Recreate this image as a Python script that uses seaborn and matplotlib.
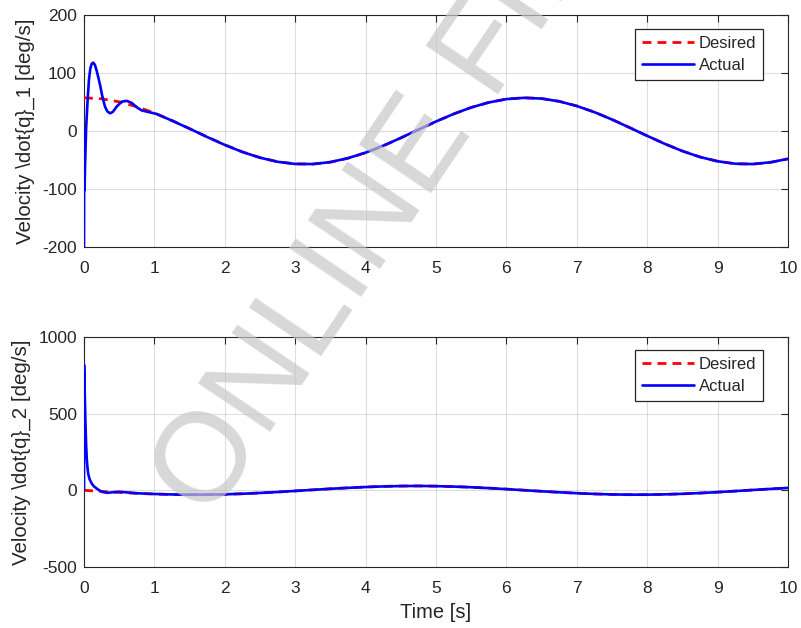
import matplotlib
matplotlib.use("Agg")
import matplotlib.pyplot as plt
import seaborn as sns
import pandas as pd

# ---------------- data ----------------
t_des = [0, 0.25, 0.5, 0.75, 1.0, 1.25, 1.5, 1.75, 2.0, 2.25, 2.5, 2.75, 3.0, 3.25,
         3.5, 3.75, 4.0, 4.25, 4.5, 4.75, 5.0, 5.25, 5.5, 5.75, 6.0, 6.25, 6.5,
         6.75, 7.0, 7.25, 7.5, 7.75, 8.0, 8.25, 8.5, 8.75, 9.0, 9.25, 9.5, 9.75, 10.0]

q1_des = [57.3, 55.5, 50.3, 41.9, 31.0, 18.1, 4.1, -10.2, -23.8, -36.0, -45.9, -53.0,
          -56.7, -57.0, -53.7, -47.0, -37.5, -25.6, -12.1, 2.2, 16.3, 29.3, 40.6, 49.3,
          55.0, 57.3, 56.0, 51.2, 43.2, 32.6, 19.9, 5.9, -8.3, -22.1, -34.5, -44.8,
          -52.2, -56.5, -57.1, -54.1, -48.1]

q2_des = [0.0, -7.1, -13.7, -19.5, -24.1, -27.1, -28.5, -28.1, -26.0, -22.3, -17.1,
          -10.9, -4.0, 3.1, 10.0, 16.3, 21.6, 25.6, 28.0, 28.6, 27.4, 24.6, 20.2, 14.5,
          8.0, 0.9, -6.2, -12.9, -18.8, -23.5, -26.8, -28.4, -28.3, -26.4, -22.8, -17.9,
          -11.8, -5.0, 2.2, 9.1, 15.6]

# actual joint 1 velocity: transient, then tracking
t_act1 = [0, 0.003, 0.008, 0.015, 0.03, 0.05, 0.07, 0.09, 0.11, 0.132, 0.155, 0.18,
          0.2, 0.227, 0.26, 0.298, 0.33, 0.37, 0.41, 0.464, 0.535, 0.606, 0.677, 0.748,
          0.82, 0.94, 1.03, 1.25, 1.5, 1.75, 2.0, 2.25, 2.5, 2.75, 3.0, 3.25,
          3.5, 3.75, 4.0, 4.25, 4.5, 4.75, 5.0, 5.25, 5.5, 5.75, 6.0, 6.25, 6.5,
          6.75, 7.0, 7.25, 7.5, 7.75, 8.0, 8.25, 8.5, 8.75, 9.0, 9.25, 9.5, 9.75, 10.0]
q1_act = [-200, 0, -102, -60, 5, 50, 88, 108, 116, 117.8, 114, 104,
          94, 80, 60, 42, 34, 30.5, 33, 42, 50.5, 52, 48.5, 41,
          35.5, 32, 29.5, 17.8, 4.0, -10.4, -24.0, -36.2, -46.0, -53.1, -56.8, -57.0,
          -53.6, -46.8, -37.3, -25.4, -11.9, 2.4, 16.4, 29.4, 40.6, 49.2,
          55.0, 57.2, 55.9, 51.1, 43.1, 32.5, 19.8, 5.8, -8.4, -22.2, -34.6, -44.9,
          -52.2, -56.4, -57.0, -54.0, -48.0]

# actual joint 2 velocity
t_act2 = [0, 0.001, 0.006, 0.012, 0.02, 0.03, 0.04, 0.05, 0.061, 0.08, 0.109, 0.14,
          0.18, 0.23, 0.275, 0.33, 0.4, 0.5, 0.6, 0.75, 1.0, 1.25, 1.5, 1.75, 2.0,
          2.25, 2.5, 2.75, 3.0, 3.25, 3.5, 3.75, 4.0, 4.25, 4.5, 4.75, 5.0, 5.25,
          5.5, 5.75, 6.0, 6.25, 6.5, 6.75, 7.0, 7.25, 7.5, 7.75, 8.0, 8.25, 8.5,
          8.75, 9.0, 9.25, 9.5, 9.75, 10.0]
q2_act = [0, 818, 720, 600, 450, 300, 200, 145, 105, 72, 45, 26,
          12, -4, -12, -16, -13, -9, -13, -19, -23.8, -26.9, -28.3, -28.0, -25.9,
          -22.2, -17.0, -10.8, -3.9, 3.2, 10.0, 16.3, 21.5, 25.5, 27.9, 28.5, 27.3,
          24.5, 20.1, 14.4, 7.9, 0.8, -6.2, -12.8, -18.7, -23.4, -26.7, -28.3, -28.2,
          -26.3, -22.7, -17.8, -11.7, -4.9, 2.3, 9.2, 15.7]

x_ticks = list(range(0, 11))
y1_ticks = [-200, -100, 0, 100, 200]
y2_ticks = [-500, 0, 500, 1000]

ylabel1 = "Velocity \\dot{q}_1 [deg/s]"
ylabel2 = "Velocity \\dot{q}_2 [deg/s]"
xlabel = "Time [s]"
watermark = "ONLINE FIRST"

# ---------------- style ----------------
sns.set_style("white")
plt.rcParams["font.family"] = ["Liberation Sans", "DejaVu Sans"]
plt.rcParams["axes.unicode_minus"] = False
dark = (0.15, 0.15, 0.15)
plt.rcParams["text.color"] = dark
plt.rcParams["axes.labelcolor"] = dark

fig = plt.figure(figsize=(8.01, 6.28), dpi=100)
ax1 = fig.add_axes([84 / 801, 1 - 247 / 628, 704 / 801, 232 / 628])
ax2 = fig.add_axes([84 / 801, 1 - 567 / 628, 704 / 801, 230 / 628])

panels = [
    (ax1, q1_des, t_act1, q1_act, (-200, 200), y1_ticks, ylabel1, 0.94),
    (ax2, q2_des, t_act2, q2_act, (-500, 1000), y2_ticks, ylabel2, 0.943),
]

for ax, des, ta, act, ylim, yt, ylab, legy in panels:
    df_d = pd.DataFrame({"t": t_des, "v": des})
    df_a = pd.DataFrame({"t": ta, "v": act})
    sns.lineplot(data=df_d, x="t", y="v", ax=ax, color="#ff0000", lw=2.0,
                 linestyle=(0, (3.2, 2.2)), label="Desired", estimator=None,
                 sort=False, zorder=3)
    sns.lineplot(data=df_a, x="t", y="v", ax=ax, color="#0000ff", lw=1.9,
                 label="Actual", estimator=None, sort=False, zorder=4)
    ax.set_xlim(0, 10)
    ax.set_ylim(*ylim)
    ax.set_xticks(x_ticks)
    ax.set_yticks(yt)
    ax.grid(True, color=(0.15, 0.15, 0.15), alpha=0.15, lw=0.8)
    for s in ax.spines.values():
        s.set_color(dark)
        s.set_linewidth(0.8)
    ax.tick_params(direction="in", length=5, width=0.8, color=dark,
                   labelcolor=dark, labelsize=12.5, top=True, right=True)
    ax.tick_params(axis="x", pad=10)
    ax.tick_params(axis="y", pad=5)
    ax.set_ylabel(ylab, fontsize=14.8, labelpad=5)
    ax.set_xlabel("")
    leg = ax.legend(loc="upper right", bbox_to_anchor=(0.965, legy),
                    fontsize=12, frameon=True, fancybox=False, framealpha=1,
                    edgecolor=dark, handlelength=3.1, borderpad=0.42,
                    labelspacing=0.42, handletextpad=0.3, borderaxespad=0)
    leg.get_frame().set_linewidth(0.9)

ax2.set_xlabel(xlabel, fontsize=14.5, labelpad=5)

# watermark (baseline start anchored)
fig.text(210 / 801, 1 - 521 / 628, watermark, fontsize=91, rotation=56,
         ha="left", va="baseline", rotation_mode="anchor",
         color=(0.78, 0.78, 0.78), alpha=0.7, zorder=10,
         family=["Liberation Sans", "DejaVu Sans"])

fig.savefig("out.png", dpi=100)
